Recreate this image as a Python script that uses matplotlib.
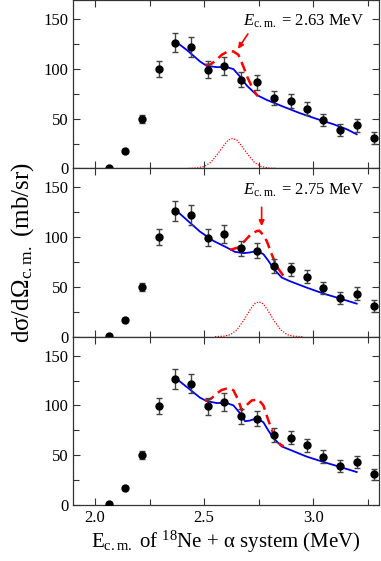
#!/usr/bin/env python3
"""Differential cross section of 18Ne + alpha, three panels with resonance fits."""
import matplotlib
matplotlib.use("Agg")
import matplotlib.pyplot as plt
from matplotlib.ticker import MultipleLocator

plt.rcParams["font.family"] = ["Liberation Serif", "DejaVu Serif"]
plt.rcParams["mathtext.fontset"] = "custom"
plt.rcParams["mathtext.rm"] = "Liberation Serif"
plt.rcParams["mathtext.it"] = "Liberation Serif:italic"

# measured points (same in every panel)
e_data = [2.063, 2.139, 2.216, 2.292, 2.367, 2.442, 2.518, 2.593, 2.668,
          2.743, 2.820, 2.896, 2.971, 3.046, 3.122, 3.199, 3.275]
xs_data = [0.7, 17.2, 50.0, 99.7, 126.4, 122.0, 99.3, 103.0, 88.9,
           86.5, 70.6, 67.6, 60.1, 48.6, 38.9, 43.2, 30.7]
xs_err = [0.5, 1.5, 4.0, 8.0, 10.0, 10.0, 8.5, 9.0, 7.5,
          7.6, 7.0, 6.7, 6.5, 6.2, 6.0, 6.4, 5.7]

# panel 1: fit with 2.63 MeV state
fit1_e = [2.366, 2.42, 2.481, 2.511, 2.557, 2.603, 2.634, 2.664, 2.695,
          2.740, 2.786, 2.862, 2.939, 3.015, 3.092, 3.153, 3.198]
fit1_y = [128.0, 119.0, 107.4, 103.0, 101.7, 101.7, 99.7, 92.3, 83.2,
          73.8, 68.8, 62.0, 55.4, 49.7, 44.3, 39.3, 34.2]
dash1_e = [2.505, 2.530, 2.557, 2.580, 2.603, 2.620, 2.634, 2.657, 2.680,
           2.700, 2.725, 2.745]
dash1_y = [104.0, 104.5, 109.0, 114.0, 116.8, 117.8, 117.4, 114.0, 102.0,
           90.6, 78.9, 72.5]
peak1_e = [2.43, 2.47, 2.50, 2.53, 2.56, 2.59, 2.61, 2.63, 2.65, 2.67,
           2.70, 2.73, 2.76, 2.79, 2.83]
peak1_y = [0.0, 0.5, 2.0, 6.0, 14.0, 23.0, 28.5, 30.0, 28.5, 23.0,
           14.0, 6.0, 2.0, 0.5, 0.0]

# panel 2: fit with 2.75 MeV state
fit2_e = [2.366, 2.42, 2.48, 2.542, 2.603, 2.641, 2.68, 2.71, 2.74,
          2.771, 2.794, 2.817, 2.855, 2.893, 2.969, 3.046, 3.122, 3.198]
fit2_y = [128.0, 117.4, 105.7, 96.3, 89.6, 85.2, 83.9, 84.6, 86.2,
          82.9, 76.2, 68.5, 59.4, 55.7, 49.3, 43.3, 38.3, 33.2]
dash2_e = [2.618, 2.656, 2.679, 2.71, 2.74, 2.752, 2.763, 2.786, 2.809,
           2.832, 2.863, 2.878]
dash2_y = [87.2, 89.6, 94.6, 102.0, 106.0, 106.5, 104.0, 96.3, 82.9,
           70.5, 61.0, 58.4]
peak2_e = [2.55, 2.59, 2.62, 2.65, 2.68, 2.71, 2.73, 2.75, 2.77, 2.79,
           2.82, 2.85, 2.88, 2.91, 2.95]
peak2_y = [0.0, 0.5, 2.0, 7.0, 16.0, 27.0, 33.0, 35.0, 33.0, 27.0,
           16.0, 7.0, 2.0, 0.5, 0.0]

# panel 3: both states
fit3_e = [2.366, 2.42, 2.481, 2.511, 2.557, 2.603, 2.634, 2.664, 2.687,
          2.71, 2.74, 2.771, 2.794, 2.817, 2.855, 2.893, 2.969, 3.046,
          3.122, 3.198]
fit3_y = [128.0, 118.6, 107.8, 104.4, 102.4, 102.4, 100.0, 92.2, 84.1,
          84.8, 87.2, 83.1, 74.7, 67.2, 58.8, 55.4, 48.6, 43.2, 38.2, 33.1]
dash3_e = [2.504, 2.530, 2.557, 2.580, 2.603, 2.620, 2.634, 2.657, 2.672,
           2.687, 2.718, 2.748, 2.771, 2.794, 2.817, 2.847, 2.863]
dash3_y = [104.5, 106.5, 111.8, 115.5, 116.9, 116.8, 115.2, 105.0, 95.0,
           99.0, 105.0, 106.0, 100.0, 84.8, 71.3, 61.1, 58.8]

labels = [r"$E_{\rm c.m.}$ = 2.63 MeV", r"$E_{\rm c.m.}$ = 2.75 MeV", None]
arrows = [((2.700, 135.0), (2.655, 120.0)), ((2.763, 130.0), (2.763, 111.0)), None]

fits = [(fit1_e, fit1_y), (fit2_e, fit2_y), (fit3_e, fit3_y)]
dashes = [(dash1_e, dash1_y), (dash2_e, dash2_y), (dash3_e, dash3_y)]
peaks = [(peak1_e, peak1_y), (peak2_e, peak2_y), None]

fig = plt.figure(figsize=(3.81, 5.61), dpi=100)
left, width = 73 / 381, 306 / 381
bottom, ph = 56 / 561, 168.3 / 561

for i in range(3):
    ax = fig.add_axes([left, bottom + (2 - i) * ph, width, ph])
    ax.errorbar(e_data, xs_data, yerr=xs_err, fmt="o", color="black",
                ms=5, ecolor="#444444", elinewidth=1.0, capsize=2.5,
                capthick=1.0, zorder=4)
    ax.plot(*fits[i], color="#0000ee", lw=1.3, zorder=3)
    ax.plot(*dashes[i], color="#ff0000", lw=1.8, dashes=(4, 2.2), zorder=3)
    if peaks[i] is not None:
        ax.plot(*peaks[i], color="#ff0000", lw=0.9, ls=(0, (1, 1.2)), zorder=2)
    if labels[i]:
        ax.text(2.68, 143, labels[i], fontsize=12, ha="left", va="baseline")
        tail, head = arrows[i]
        ax.annotate("", xy=head, xytext=tail,
                    arrowprops=dict(arrowstyle="-|>", color="#ff0000",
                                    lw=1.2, mutation_scale=8,
                                    shrinkA=0, shrinkB=0))

    ax.set_xlim(1.9, 3.3)
    ax.set_ylim(0, 169)
    ax.xaxis.set_major_locator(MultipleLocator(0.5))
    ax.xaxis.set_minor_locator(MultipleLocator(0.25))
    ax.yaxis.set_major_locator(MultipleLocator(50))
    ax.yaxis.set_minor_locator(MultipleLocator(25))
    ax.tick_params(which="both", direction="in", top=True, right=True,
                   labelsize=12, width=0.8, color="#333333")
    ax.tick_params(which="major", length=5)
    ax.tick_params(which="minor", length=4)
    for s in ax.spines.values():
        s.set_linewidth(0.9)
        s.set_color("#333333")
    if i < 2:
        ax.tick_params(labelbottom=False)
    else:
        ax.set_xticks([2.0, 2.5, 3.0])
        ax.set_xticklabels(["2.0", "2.5", "3.0"])
        ax.set_xlabel(r"E$_{\rm c.m.}$ of $^{18}$Ne + α system (MeV)",
                      fontsize=15, labelpad=2)
    if i == 1:
        ax.set_ylabel(r"dσ/dΩ$_{\rm c.m.}$ (mb/sr)", fontsize=18,
                      labelpad=5)

fig.savefig("out.png", dpi=100)
